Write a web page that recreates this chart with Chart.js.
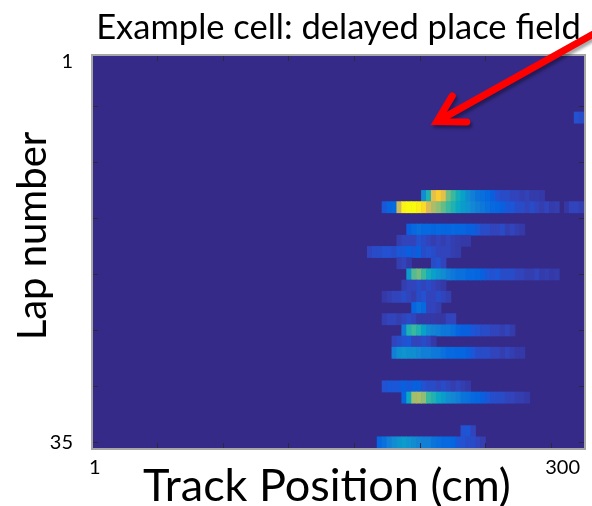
<!DOCTYPE html>
<html>
<head>
<meta charset="utf-8">
<title>Example cell: delayed place field</title>
<script src="https://cdn.jsdelivr.net/npm/chart.js@4.4.7/dist/chart.umd.min.js"></script>
<style>
  html, body { margin: 0; padding: 0; background: #fff; }
  #wrap { position: relative; width: 592px; height: 506px; }
</style>
</head>
<body>
<div id="wrap"><canvas id="chart"></canvas></div>
<script>
// Binned activity of one cell, lap by lap. Each row starts at firstBinCm
// and holds the normalised rate for consecutive 3 cm bins (0 = silent).
var BIN_CM = 3;
var lapNumbers = [6, 13, 14, 16, 17, 18, 19, 20, 21, 22, 23, 24, 25, 26, 27, 30, 31, 34, 35];
var firstBinCm = [294, 201, 177, 192, 186, 168, 186, 192, 189, 177, 195, 177, 189, 183, 183, 177, 189, 225, 174];
var rateRows = [
  [0.09, 0.08],
  [0.28, 0.45, 0.8, 0.88, 0.8, 0.59, 0.51, 0.42, 0.36, 0.28, 0.23, 0.19, 0.17, 0.15, 0.12, 0.09, 0.08, 0.08, 0.065, 0.065, 0.05, 0.06, 0.045, 0.045, 0.04],
  [0.1, 0.14, 0.15, 0.74, 0.98, 1, 1, 0.97, 0.92, 0.77, 0.68, 0.63, 0.57, 0.51, 0.45, 0.39, 0.34, 0.31, 0.26, 0.23, 0.2, 0.18, 0.15, 0.14, 0.12, 0.1, 0.1, 0.08, 0.08, 0.065, 0.08, 0.065, 0.05, 0.065, 0.045, 0.05, 0, 0.035, 0.065, 0.065, 0.05],
  [0.12, 0.15, 0.17, 0.15, 0.15, 0.14, 0.15, 0.14, 0.14, 0.15, 0.14, 0.14, 0.12, 0.12, 0.1, 0.08, 0.08, 0.065, 0.065, 0.08, 0.05, 0.065, 0.05, 0.04],
  [0.05, 0.065, 0.065, 0.065, 0.09, 0.08, 0.065, 0.05, 0.065, 0.05, 0.065, 0.05, 0.045, 0.04, 0.04],
  [0.065, 0.08, 0.08, 0.09, 0.09, 0.08, 0.1, 0.105, 0.12, 0.105, 0.12, 0.08, 0.09, 0.08, 0.065, 0.065, 0.065, 0.05, 0.045],
  [0.05, 0.065, 0.04, 0, 0, 0, 0, 0.08, 0.09, 0.065],
  [0.34, 0.55, 0.59, 0.51, 0.42, 0.36, 0.31, 0.28, 0.23, 0.2, 0.18, 0.18, 0.15, 0.15, 0.14, 0.12, 0.1, 0.09, 0.1, 0.08, 0.08, 0.08, 0.065, 0.065, 0.05, 0.05, 0.065, 0.045, 0.05, 0.04, 0.045],
  [0.05, 0.065, 0.065, 0.08, 0.065, 0.08, 0.065, 0.05, 0.04],
  [0.04, 0.05, 0.065, 0.065, 0.08, 0.065, 0.05, 0.08, 0.09, 0.065, 0.065, 0.08, 0.065, 0.05],
  [0.14, 0.18, 0.15, 0.065, 0.065, 0.05],
  [0.05, 0.065, 0.065, 0.05, 0.065, 0.08, 0.065, 0.04, 0.04, 0.04, 0.04, 0.035, 0.035, 0.065, 0.065],
  [0.21, 0.45, 0.51, 0.45, 0.36, 0.28, 0.25, 0.23, 0.2, 0.2, 0.18, 0.14, 0.12, 0.12, 0.1, 0.09, 0.08, 0.08, 0.065, 0.065, 0.05, 0.065, 0.045],
  [0.065, 0.08, 0.09, 0.1, 0.065, 0.065, 0.08, 0.065, 0.04],
  [0.23, 0.29, 0.31, 0.29, 0.29, 0.26, 0.23, 0.23, 0.21, 0.2, 0.18, 0.15, 0.15, 0.14, 0.14, 0.12, 0.1, 0.08, 0.08, 0.08, 0.065, 0.065, 0.05, 0.065, 0.05, 0.04, 0.04],
  [0.09, 0.105, 0.1, 0.105, 0.12, 0.105, 0.12, 0.12, 0.09, 0.08, 0.08, 0.065, 0.08, 0.065, 0.05, 0.065, 0.05, 0.04],
  [0.14, 0.39, 0.66, 0.68, 0.63, 0.51, 0.45, 0.39, 0.34, 0.29, 0.26, 0.23, 0.19, 0.18, 0.15, 0.14, 0.12, 0.1, 0.085, 0.08, 0.08, 0.065, 0.065, 0.05, 0.05, 0.04],
  [0.09, 0.1, 0.065],
  [0.14, 0.18, 0.23, 0.28, 0.31, 0.34, 0.31, 0.28, 0.25, 0.23, 0.23, 0.19, 0.17, 0.15, 0.15, 0.14, 0.1, 0.09, 0.08, 0.08, 0.065, 0.05]
];

var xTickLabels = [1, 300];
var yTickLabels = [1, 35];
var xTickMarks = [40, 80, 120, 160, 200, 240, 280];
var yTickMarks = [5, 10, 15, 20, 25, 30, 35];

// arrow annotation, in track cm / lap units
var arrowTip = { x: 210.4, y: 6.36 };
var arrowTail = { x: 316, y: -2.3 };

// parula colour stops [t, r, g, b]
var PARULA = [
  [0, 53, 42, 135],
  [0.032, 54, 54, 160],
  [0.063, 50, 67, 186],
  [0.095, 32, 83, 212],
  [0.127, 3, 99, 225],
  [0.254, 20, 133, 212],
  [0.381, 6, 167, 198],
  [0.508, 56, 185, 158],
  [0.635, 146, 191, 115],
  [0.762, 217, 186, 86],
  [0.889, 252, 206, 46],
  [1, 249, 251, 14]
];

function parula(t) {
  t = Math.max(0, Math.min(1, t));
  for (var i = 1; i < PARULA.length; i++) {
    var a = PARULA[i - 1], b = PARULA[i];
    if (t <= b[0]) {
      var f = (t - a[0]) / (b[0] - a[0]);
      return 'rgb(' + Math.round(a[1] + f * (b[1] - a[1])) + ',' +
        Math.round(a[2] + f * (b[2] - a[2])) + ',' +
        Math.round(a[3] + f * (b[3] - a[3])) + ')';
    }
  }
  return 'rgb(249,251,14)';
}

var cells = [];
lapNumbers.forEach(function (lap, i) {
  rateRows[i].forEach(function (v, k) {
    if (!v) return;
    var x0 = firstBinCm[i] + k * BIN_CM;
    cells.push({ x: [x0, x0 + BIN_CM], y: lap, v: v });
  });
});

// silent background, inward ticks and the grey frame
var plotFrame = {
  id: 'plotFrame',
  beforeDatasetsDraw: function (chart) {
    var a = chart.chartArea, ctx = chart.ctx;
    ctx.save();
    ctx.fillStyle = parula(0);
    ctx.fillRect(a.left, a.top, a.right - a.left, a.bottom - a.top);
    ctx.restore();
  },
  afterDatasetsDraw: function (chart) {
    var a = chart.chartArea, ctx = chart.ctx;
    var xs = chart.scales.x, ys = chart.scales.y;
    ctx.save();
    ctx.strokeStyle = '#2a2a3a';
    ctx.lineWidth = 1;
    ctx.beginPath();
    xTickMarks.forEach(function (v) {
      var px = Math.round(xs.getPixelForValue(v)) + 0.5;
      ctx.moveTo(px, a.top);
      ctx.lineTo(px, a.top + 5);
      ctx.moveTo(px, a.bottom);
      ctx.lineTo(px, a.bottom - 5);
    });
    yTickMarks.forEach(function (v) {
      var py = Math.round(ys.getPixelForValue(v)) + 0.5;
      ctx.moveTo(a.left, py);
      ctx.lineTo(a.left + 5, py);
      ctx.moveTo(a.right, py);
      ctx.lineTo(a.right - 5, py);
    });
    ctx.stroke();
    ctx.strokeStyle = '#a6a6a6';
    ctx.lineWidth = 2;
    ctx.strokeRect(a.left - 1, a.top - 1, a.right - a.left + 2, a.bottom - a.top + 2);
    ctx.restore();
  }
};

// red pointer onto the silent early laps
var pointer = {
  id: 'pointer',
  afterDraw: function (chart) {
    var ctx = chart.ctx, xs = chart.scales.x, ys = chart.scales.y;
    var tx = xs.getPixelForValue(arrowTip.x), ty = ys.getPixelForValue(arrowTip.y);
    var sx = xs.getPixelForValue(arrowTail.x), sy = ys.getPixelForValue(arrowTail.y);
    var ang = Math.atan2(sy - ty, sx - tx);
    var len = 30, spread = 0.52;
    ctx.save();
    ctx.shadowColor = 'rgba(0,0,0,0.35)';
    ctx.shadowBlur = 3;
    ctx.shadowOffsetX = 2;
    ctx.shadowOffsetY = 3;
    ctx.strokeStyle = '#ff0000';
    ctx.lineWidth = 7;
    ctx.lineJoin = 'miter';
    ctx.lineCap = 'round';
    ctx.beginPath();
    ctx.moveTo(sx, sy);
    ctx.lineTo(tx + 3 * Math.cos(ang), ty + 3 * Math.sin(ang));
    ctx.moveTo(tx + len * Math.cos(ang - spread), ty + len * Math.sin(ang - spread));
    ctx.lineTo(tx, ty);
    ctx.lineTo(tx + len * Math.cos(ang + spread), ty + len * Math.sin(ang + spread));
    ctx.stroke();
    ctx.restore();
  }
};

// axis captions
var captions = {
  id: 'captions',
  afterDraw: function (chart) {
    var ctx = chart.ctx;
    ctx.save();
    ctx.fillStyle = '#000';
    ctx.textAlign = 'center';
    ctx.textBaseline = 'alphabetic';
    ctx.font = '45px Lato';
    ctx.fillText('Track Position (cm)', 327, 501);
    ctx.font = '40px Lato';
    ctx.translate(46, 236);
    ctx.rotate(-Math.PI / 2);
    ctx.fillText('Lap number', 0, 0);
    ctx.restore();
  }
};

Chart.defaults.font.family = 'Lato';
Chart.defaults.color = '#000';

new Chart(document.getElementById('chart'), {
  type: 'bar',
  data: {
    datasets: [{
      data: cells,
      backgroundColor: function (c) {
        return c.raw ? parula(c.raw.v) : 'transparent';
      },
      borderWidth: 0,
      barPercentage: 1,
      categoryPercentage: 1
    }]
  },
  options: {
    indexAxis: 'y',
    responsive: true,
    maintainAspectRatio: false,
    animation: false,
    events: [],
    layout: { padding: { left: 0, right: 6, top: 0, bottom: 0 } },
    plugins: {
      legend: { display: false },
      tooltip: { enabled: false },
      title: {
        display: true,
        fullSize: false,
        text: 'Example cell: delayed place field',
        color: '#000',
        font: { size: 34.5, weight: 'normal', lineHeight: 1.2 },
        padding: { top: 7, bottom: 7.6 }
      }
    },
    scales: {
      x: {
        type: 'linear',
        min: 1,
        max: 300,
        grid: { display: false, drawTicks: false },
        border: { display: false },
        afterBuildTicks: function (s) {
          s.ticks = xTickLabels.map(function (v) { return { value: v }; });
        },
        afterFit: function (s) { s.height = 58; },
        ticks: {
          font: { size: 20 },
          align: 'inner',
          labelOffset: -4,
          padding: 8,
          maxRotation: 0,
          autoSkip: false
        }
      },
      y: {
        type: 'linear',
        reverse: true,
        offset: false,
        min: 0.5,
        max: 35.5,
        grid: { display: false, drawTicks: false },
        border: { display: false },
        afterBuildTicks: function (s) {
          s.ticks = yTickLabels.map(function (v) { return { value: v }; });
        },
        afterFit: function (s) { s.width = 93; },
        ticks: {
          font: { size: 20 },
          padding: 20,
          autoSkip: false
        }
      }
    }
  },
  plugins: [plotFrame, pointer, captions]
});
</script>
</body>
</html>
